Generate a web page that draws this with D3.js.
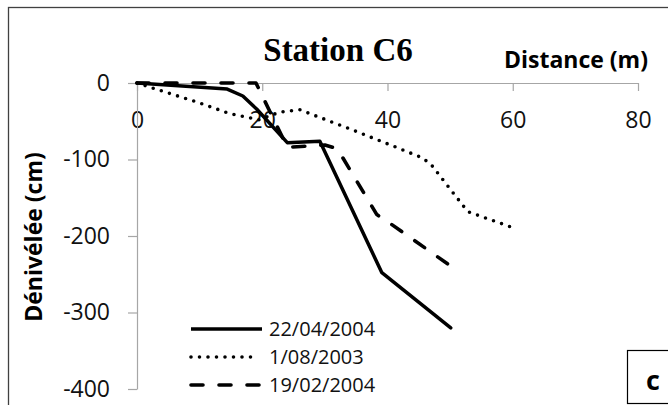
<!DOCTYPE html>
<html>
<head>
<meta charset="utf-8">
<script src="https://cdn.jsdelivr.net/npm/d3@7"></script>
<style>
  body { margin: 0; background: #fff; }
  svg { display: block; font-family: "Open Sans", sans-serif; }
</style>
</head>
<body>
<div id="chart"></div>
<script>
// Profile values: distance (m), height (cm)
const s22042004 = [
    { x: 0, y: 0 }, { x: 14.4, y: -8 }, { x: 16.9, y: -17 }, { x: 19.1, y: -34 },
    { x: 24, y: -78 }, { x: 29.2, y: -76 }, { x: 39.1, y: -248 }, { x: 50.1, y: -320 }
];
const s01082003 = [
    { x: 0, y: 0 }, { x: 4.2, y: -11 }, { x: 9.6, y: -25 }, { x: 14.8, y: -40 },
    { x: 19.5, y: -48 }, { x: 22.8, y: -38 }, { x: 26, y: -35 }, { x: 34, y: -60 },
    { x: 42, y: -86 }, { x: 45.6, y: -98 }, { x: 47, y: -107 }, { x: 52.8, y: -168 },
    { x: 55.5, y: -176 }, { x: 60, y: -189 }
];
const s19022004 = [
    { x: 0, y: 0 }, { x: 19, y: 0 }, { x: 24, y: -84 }, { x: 30, y: -81 },
    { x: 32, y: -86 }, { x: 38.3, y: -172 }, { x: 40.5, y: -184 }, { x: 50.4, y: -241 }
];

const seriesNames = ["22/04/2004", "1/08/2003", "19/02/2004"];
const xTicks = [0, 20, 40, 60, 80];
const yTicks = [0, -100, -200, -300, -400];

const width = 668, height = 405;

const svg = d3.select("#chart").append("svg")
    .attr("width", width)
    .attr("height", height);

// outer chart frame
svg.append("rect")
    .attr("x", 8.5).attr("y", 7.5)
    .attr("width", 700).attr("height", 500)
    .attr("fill", "none")
    .attr("stroke", "#404040")
    .attr("stroke-width", 1.3);

const x = d3.scaleLinear().domain([0, 80]).range([137, 638]);
const y = d3.scaleLinear().domain([-400, 0]).range([389, 83]);

// title
svg.append("text")
    .attr("x", 338).attr("y", 61)
    .attr("text-anchor", "middle")
    .style("font-family", '"Liberation Serif", serif')
    .style("font-weight", "bold")
    .style("font-size", "33px")
    .text("Station C6");

svg.append("text")
    .attr("x", 648).attr("y", 68)
    .attr("text-anchor", "end")
    .style("font-weight", "bold")
    .style("font-size", "23px")
    .text("Distance (m)");

svg.append("text")
    .attr("transform", "translate(42,237) rotate(-90)")
    .attr("text-anchor", "middle")
    .style("font-weight", "bold")
    .style("font-size", "23px")
    .text("Dénivélée (cm)");

// axes (plain hyphen for negatives, like the original)
const fmt = d => String(d);

const xAxis = svg.append("g")
    .attr("transform", `translate(0,${y(0)})`)
    .call(d3.axisBottom(x).tickValues(xTicks).tickFormat(fmt)
        .tickSize(8).tickSizeOuter(0).tickPadding(21));

const yAxis = svg.append("g")
    .attr("transform", `translate(${x(0)},0)`)
    .call(d3.axisLeft(y).tickValues(yTicks).tickFormat(fmt)
        .tickSize(9).tickSizeOuter(0).tickPadding(18));

[xAxis, yAxis].forEach(g => {
    g.selectAll("path, line").attr("stroke", "#a6a6a6").attr("stroke-width", 1.2);
    g.selectAll("text")
        .attr("fill", "#111")
        .style("font-family", '"Open Sans", sans-serif')
        .style("font-size", "23px");
});

// lines
const line = d3.line()
    .x(d => x(d.x))
    .y(d => y(d.y));

const styles = [
    { dash: null, cap: "round", w: 3.5 },
    { dash: "0,8.5", cap: "round", w: 3.6 },
    { dash: "12,16", cap: "round", w: 3.6 }
];
const allSeries = [s22042004, s01082003, s19022004];

allSeries.forEach((data, i) => {
    svg.append("path")
        .datum(data)
        .attr("fill", "none")
        .attr("stroke", "#000")
        .attr("stroke-width", styles[i].w)
        .attr("stroke-linecap", styles[i].cap)
        .attr("stroke-linejoin", "round")
        .attr("stroke-dasharray", styles[i].dash)
        .attr("d", line);
});

// legend
const legendY = [329, 357, 385];
const legend = svg.append("g");
seriesNames.forEach((name, i) => {
    legend.append("line")
        .attr("x1", 191).attr("x2", i === 1 ? 256 : 262)
        .attr("y1", legendY[i]).attr("y2", legendY[i])
        .attr("stroke", "#000")
        .attr("stroke-width", styles[i].w)
        .attr("stroke-linecap", i === 0 ? "butt" : "round")
        .attr("stroke-dasharray", styles[i].dash);
    legend.append("text")
        .attr("x", 269).attr("y", legendY[i] + 7)
        .attr("fill", "#111")
        .style("font-size", "20px")
        .text(name);
});

// panel letter box
svg.append("rect")
    .attr("x", 627.5).attr("y", 350.5)
    .attr("width", 60).attr("height", 53)
    .attr("fill", "#fff")
    .attr("stroke", "#000")
    .attr("stroke-width", 1.2);

svg.append("text")
    .attr("x", 653).attr("y", 390)
    .attr("text-anchor", "middle")
    .style("font-weight", "bold")
    .style("font-size", "27px")
    .text("c");
</script>
</body>
</html>
